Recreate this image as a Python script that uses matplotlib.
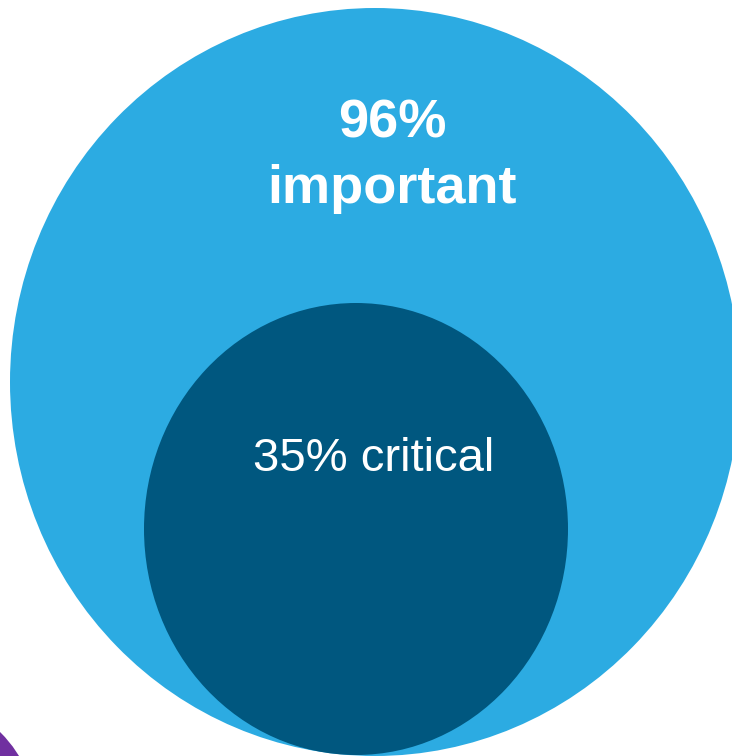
import matplotlib
matplotlib.use("Agg")
import matplotlib.pyplot as plt
from matplotlib.patches import Ellipse, Circle

# labels and values shown in the bubbles
pcts = ["96%", "35%"]
words = ["important", "critical"]

light_blue = "#2cabe2"
dark_blue = "#00577f"
purple = "#7030a0"

plt.rcParams["font.family"] = ["Liberation Sans", "DejaVu Sans"]

fig = plt.figure(figsize=(7.32, 7.56), dpi=100)
ax = fig.add_axes([0, 0, 1, 1])
ax.set_xlim(0, 732)
ax.set_ylim(756, 0)
ax.axis("off")

# outer bubble, inner bubble, and the edge of a neighbour bubble
ax.add_patch(Ellipse((375, 382), 730, 748, color=light_blue, lw=0))
ax.add_patch(Ellipse((356, 529), 424, 452, color=dark_blue, lw=0))
ax.add_patch(Circle((-86.5, 820), 123.4, color=purple, lw=0))

ax.text(392, 137, pcts[0], color="white", fontsize=39, fontweight="bold",
        ha="center", va="baseline")
ax.text(392, 203, words[0], color="white", fontsize=39, fontweight="bold",
        ha="center", va="baseline")
ax.text(374, 471, pcts[1] + " " + words[1], color="white", fontsize=34,
        ha="center", va="baseline")

fig.savefig("out.png", dpi=100)
